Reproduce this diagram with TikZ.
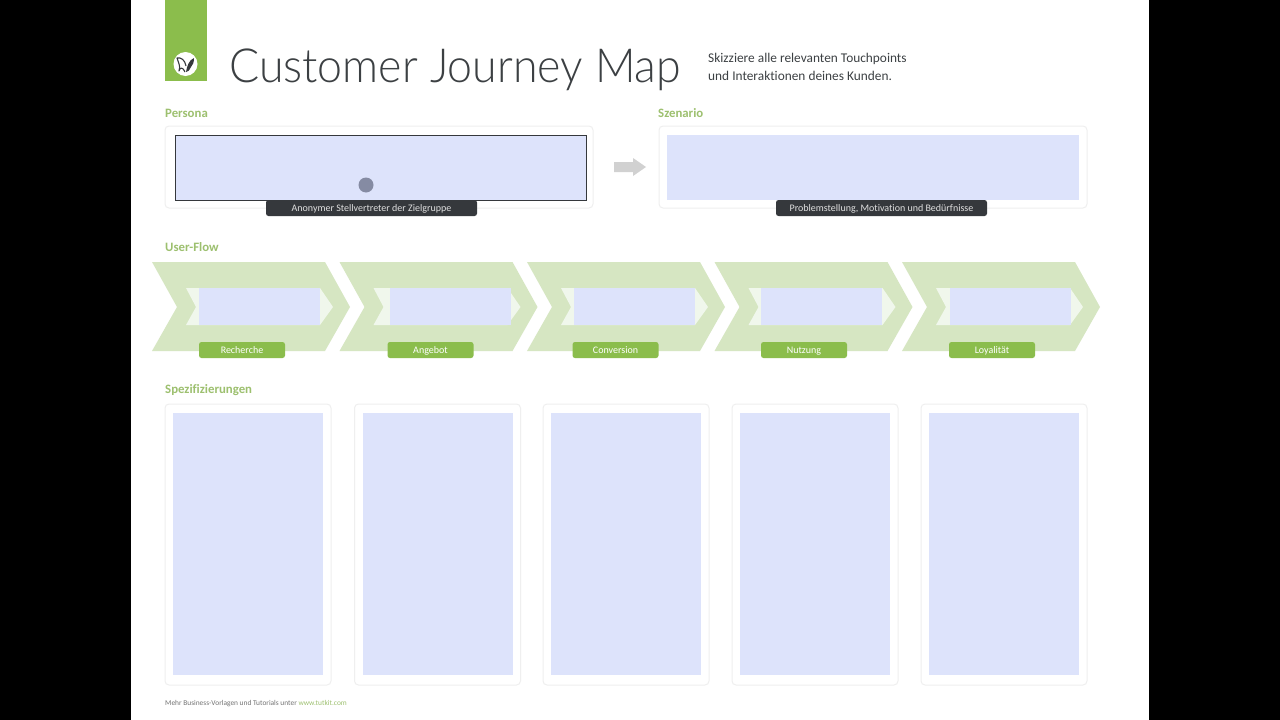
\documentclass[tikz,border=0pt]{standalone}
\usepackage{fontspec}
\setmainfont{Open Sans}
\newfontfamily\titlefont[UprightFont=* Light]{Lato}
\newfontfamily\labelfont[Ligatures={NoCommon,TeX}]{Carlito}
\definecolor{leaf}{HTML}{8BBD4C}
\definecolor{headgreen}{HTML}{9DC06F}
\definecolor{chev}{HTML}{D6E6C2}
\definecolor{chevin}{HTML}{F0F7EC}
\definecolor{bluefill}{HTML}{DDE3FB}
\definecolor{panelline}{HTML}{EFEFEF}
\definecolor{darktag}{HTML}{35383C}
\definecolor{inktext}{HTML}{3C4043}
\definecolor{cursorgrey}{HTML}{858BA3}
\tikzset{
  x=1pt,y=-1pt,
  panel/.style={draw=panelline,line width=1pt,fill=white,rounded corners=4pt},
  bluebox/.style={fill=bluefill},
  head/.style={anchor=west,inner sep=0pt,text=headgreen,font=\labelfont\bfseries\fontsize{12.8}{12.8}\selectfont},
  darkbadge/.style={fill=darktag,rounded corners=2.5pt,text=white!88!black,minimum width=211pt,minimum height=16pt,inner sep=0pt,text depth=0pt,font=\labelfont\fontsize{10}{10}\selectfont},
  greenbadge/.style={fill=leaf,rounded corners=2.5pt,text=white,minimum width=86pt,minimum height=16pt,inner sep=0pt,text depth=0pt,font=\labelfont\fontsize{10}{10}\selectfont},
}
\newcommand{\chevronat}[2]{%
  \fill[chev] (#1,262) -- ++(173,0) -- ++(25,45) -- ++(-25,44) -- ++(-173,0) -- ++(25,-44) -- cycle;
  \fill[chevin] (#1+34,288) -- ++(134,0) -- ++(13,19) -- ++(-13,18) -- ++(-134,0) -- ++(10,-18) -- cycle;
  \fill[bluefill] (#2,288) rectangle (#2+121,325);
}
\newcommand{\specat}[1]{%
  \draw[panel] (#1,404) rectangle (#1+166,685);
  \fill[bluebox] (#1+8,413) rectangle (#1+158,675);
}
\begin{document}
\begin{tikzpicture}
\useasboundingbox (0,0) rectangle (1280,720);
\fill[black] (0,0) rectangle (1280,720);
\fill[white] (130.5,0) rectangle (1149,720);
% logo
\fill[leaf] (165,0) rectangle (207,81);
\fill[white] (185.5,64) circle (12);
\draw[darktag,line width=1.1pt,line join=round] (185,72) .. controls (183,67) and (180,67) .. (179,71) .. controls (181,66) and (178,62) .. (177,58) .. controls (181,57) and (185,60) .. (186,66);
\fill[darktag] (186,72) .. controls (187,66) and (189,60) .. (194,58) .. controls (194,62) and (193,65) .. (191,67) .. controls (190,70) and (188,72) .. (186,72) -- cycle;
% title
\node[anchor=base west,inner sep=0pt,text=inktext,font=\titlefont\fontsize{47}{47}\selectfont] (title) at (229,82) {\scalebox{.951}[1]{Customer Journey Map}};
\node[anchor=west,inner sep=0pt,text=inktext,align=left,font=\labelfont\fontsize{13.35}{18}\selectfont] (intro) at (708,67) {Skizziere alle relevanten Touchpoints\\und Interaktionen deines Kunden.};
% persona
\node[head] (hpersona) at (165,113.5) {Persona};
\node[head] (hszenario) at (658,113.5) {Szenario};
\draw[panel] (165,126) rectangle (593,208);
\draw[panel] (659,126) rectangle (1087,208);
\draw[bluebox,draw=darktag,line width=.9pt] (175,135) rectangle (586.5,200);
\fill[bluebox] (667,135) rectangle (1079,200);
\fill[cursorgrey] (366,185) circle (7.5);
\node[darkbadge] (tagpersona) at (371.5,208) {Anonymer Stellvertreter der Zielgruppe};
\node[darkbadge] (tagszenario) at (881.5,208) {Problemstellung, Motivation und Bedürfnisse};
\fill[black!18] (614,162) -- (633,162) -- (633,158) -- (646,167) -- (633,176) -- (633,172) -- (614,172) -- cycle;
% user flow
\node[head] (hflow) at (165,247.5) {User-Flow};
\chevronat{152}{199}
\chevronat{339.5}{390}
\chevronat{527}{574}
\chevronat{714.5}{761}
\chevronat{902}{950}
\node[greenbadge] (b1) at (242,350) {Recherche};
\node[greenbadge] (b2) at (430.5,350) {Angebot};
\node[greenbadge] (b3) at (615.5,350) {Conversion};
\node[greenbadge] (b4) at (804,350) {Nutzung};
\node[greenbadge] (b5) at (992,350) {Loyalität};
% specs
\node[head] (hspec) at (165,390.5) {Spezifizierungen};
\specat{165}
\specat{354.5}
\specat{543}
\specat{732}
\specat{921}
\node[anchor=west,inner sep=0pt,text=black!55,font=\labelfont\fontsize{7.4}{8}\selectfont] (foot) at (165,704) {Mehr Business-Vorlagen und Tutorials unter \textcolor{headgreen}{www.tutkit.com}};
\end{tikzpicture}
\end{document}
